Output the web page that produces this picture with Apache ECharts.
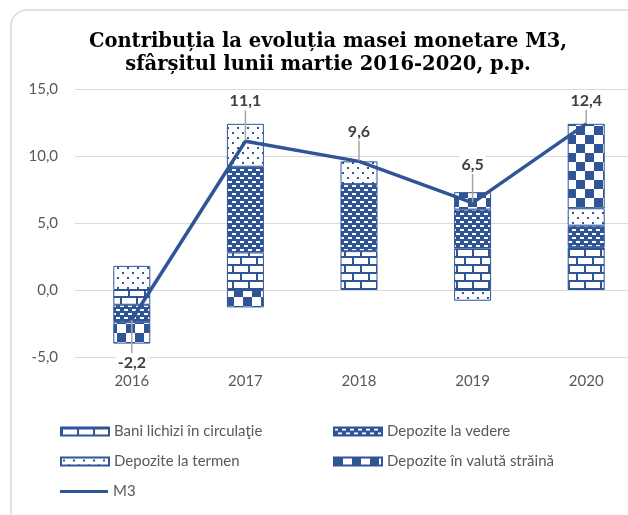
<!DOCTYPE html>
<html>
<head>
<meta charset="utf-8">
<script src="https://cdn.jsdelivr.net/npm/echarts@6/dist/echarts.min.js"></script>
<style>
  html, body { margin: 0; padding: 0; background: #fff; overflow: hidden; }
  #chart { width: 660px; height: 515px; }
</style>
</head>
<body>
<div id="chart"></div>
<script>
var years = ['2016', '2017', '2018', '2019', '2020'];
var bani = [-1.1, 2.8, 2.9, 3.1, 3.2];
var vedere = [-1.3, 6.4, 5.0, 2.9, 1.6];
var termen = [1.8, 3.2, 1.7, -0.8, 1.3];
var valuta = [-1.6, -1.3, null, 1.3, 6.3];
var m3 = [-2.2, 11.1, 9.6, 6.5, 12.4];
var yTicks = [-5, 0, 5, 10, 15];

var blue = '#2F5597';
var grey = '#595959';

// pattern helpers
function tile(w, h, bg, draw) {
  var c = document.createElement('canvas');
  c.width = w; c.height = h;
  var ctx = c.getContext('2d');
  ctx.fillStyle = bg;
  ctx.fillRect(0, 0, w, h);
  ctx.fillStyle = blue;
  draw(ctx);
  return { image: c, repeat: 'repeat' };
}

var brick = tile(16, 16, '#fff', function (ctx) {
  ctx.fillRect(0, 0, 16, 2);
  ctx.fillRect(0, 8, 16, 2);
  ctx.fillRect(0, 2, 2, 6);
  ctx.fillRect(8, 10, 2, 6);
});
var dashes = tile(8, 8, blue, function (ctx) {
  ctx.fillStyle = '#fff';
  ctx.fillRect(0, 1, 4, 2);
  ctx.fillRect(4, 5, 4, 2);
});
var dots = tile(10, 10, '#fff', function (ctx) {
  ctx.fillRect(2, 2, 2, 2);
  ctx.fillRect(7, 7, 2, 2);
});
var checker = tile(18, 18, '#fff', function (ctx) {
  ctx.fillRect(0, 0, 9, 9);
  ctx.fillRect(9, 9, 9, 9);
});

function barSeries(name, data, pattern) {
  return {
    name: name,
    type: 'bar',
    stack: 'c',
    barWidth: 37,
    data: data,
    itemStyle: { color: pattern, borderColor: blue, borderWidth: 1 }
  };
}

var labelDy = [43, -40, -30, -38, -23];

var myChart = echarts.init(document.getElementById('chart'));
var font = 'Lato';

function legendItem(name, left, top, opts) {
  var l = {
    data: [name],
    left: left,
    top: top,
    padding: 0,
    itemWidth: 48,
    itemHeight: 8,
    itemGap: 6,
    icon: 'rect',
    textStyle: { color: grey, fontSize: 15, fontFamily: font }
  };
  for (var k in opts) l[k] = opts[k];
  return l;
}

var option = {
  animation: false,
  backgroundColor: '#fff',
  title: {
    text: 'Contribuția la evoluția masei monetare M3,\nsfârșitul lunii martie 2016-2020, p.p.',
    left: 323,
    top: 25,
    textAlign: 'center',
    textStyle: {
      fontFamily: 'DejaVu Serif',
      fontWeight: 'bold',
      fontSize: 19.5,
      lineHeight: 23,
      color: '#000'
    }
  },
  graphic: [{
    type: 'rect',
    shape: { x: 11, y: 10, width: 700, height: 520, r: 16 },
    style: { fill: 'none', stroke: '#D9D9D9', lineWidth: 1.5 },
    z: -1
  }],
  legend: [
    legendItem('Bani lichizi în circulaţie', 60, 424),
    legendItem('Depozite la vedere', 333, 424),
    legendItem('Depozite la termen', 60, 454),
    legendItem('Depozite în valută străină', 333, 454),
    legendItem('M3', 60, 484, { itemHeight: 3 })
  ],
  grid: {
    left: 75,
    top: 89,
    width: 568,
    height: 268
  },
  xAxis: {
    type: 'category',
    data: years,
    axisLine: { show: false, onZero: false },
    axisTick: { show: false },
    axisLabel: { color: grey, fontSize: 15, fontFamily: font, margin: 17 }
  },
  yAxis: {
    type: 'value',
    min: yTicks[0],
    max: yTicks[yTicks.length - 1],
    interval: 5,
    axisLine: { show: false },
    axisTick: { show: false },
    splitLine: { lineStyle: { color: '#D9D9D9', width: 1 } },
    axisLabel: {
      color: grey, fontSize: 15, fontFamily: font, margin: 17,
      formatter: function (v) { return v.toFixed(1).replace('.', ','); }
    }
  },
  series: [
    barSeries('Bani lichizi în circulaţie', bani, brick),
    barSeries('Depozite la vedere', vedere, dashes),
    barSeries('Depozite la termen', termen, dots),
    barSeries('Depozite în valută străină', valuta, checker),
    {
      name: 'M3',
      type: 'line',
      data: m3,
      z: 5,
      symbol: 'circle',
      symbolSize: 1,
      itemStyle: { color: blue },
      lineStyle: { color: blue, width: 3.5 },
      label: {
        show: true,
        position: 'inside',
        fontFamily: font,
        fontWeight: 'bold',
        fontSize: 16,
        color: '#404040',
        backgroundColor: '#fff',
        padding: [1, 2],
        formatter: function (p) { return p.value.toFixed(1).replace('.', ','); }
      },
      labelLine: { show: true, lineStyle: { color: '#A6A6A6', width: 1.5 } },
      labelLayout: function (p) {
        return { dy: labelDy[p.dataIndex] };
      }
    }
  ]
};

myChart.setOption(option);
</script>
</body>
</html>
